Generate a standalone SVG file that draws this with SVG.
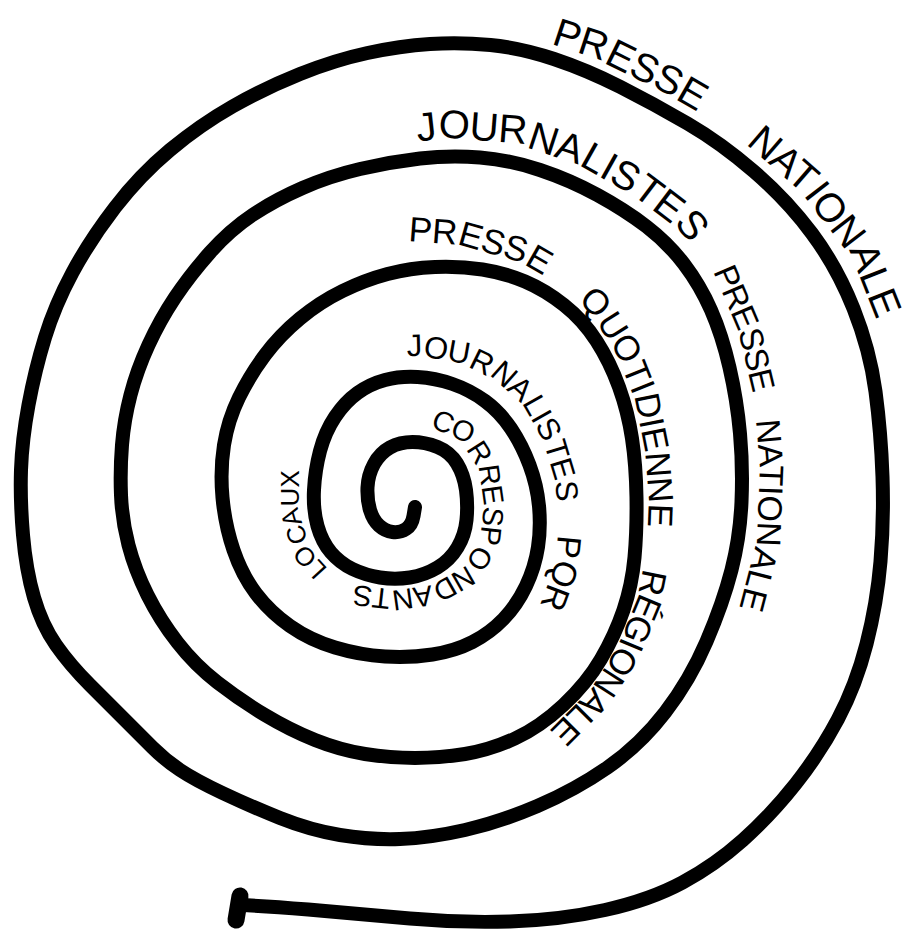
<svg xmlns="http://www.w3.org/2000/svg" width="914" height="940" viewBox="0 0 914 940">
<style>
.line{fill:none;stroke:#000;stroke-width:14;stroke-linecap:round;stroke-linejoin:round}
.lbl{font-family:"Liberation Sans",Arial,sans-serif;fill:#000}
</style>
<defs>
<path id="t1" d="M527,36 L594,58 L663,92 L732,132 L800,191 L853,260 L887,346 L899,432"/>
<path id="t2" d="M387,145 L450,138 L513,143 L577,164 L634,196 L680,231 L715,276 L738,330 L754,397 L760,467 L757,540 L739,609 L705,689"/>
<path id="t3" d="M395,240 L460,245 L520,262 L560,285 L592,315 L617,355 L635,400 L645,450 L649,500 L647,550 L637,600 L617,648 L590,690 L555,725 L515,750"/>
<path id="t4" d="M380,357 L420,356 L460,363 L495,380 L523,405 L543,440 L555,480 L559,525 L555,565 L540,605 L515,640"/>
<path id="t5" d="M428,426 L460,440 L479,470 L484,505 L480,540 L462,568 L432,585 L397,590 L362,586 L332,573 L310,549 L299,512 L299,468 L310,426"/>
</defs>
<rect width="914" height="940" fill="#fff"/>
<g id="connectors">
<path id="spiral" class="line" d="M415,507 L413.5,516 Q412,525 406,529 Q400,533 392.5,532 Q385,531 379,525.5 Q373,520 370,510 Q367,500 367.5,487.5 Q368,475 374,464 Q380,453 390,447.5 Q400,442 412.5,442 Q425,442 437.5,447 Q450,452 457,463.5 Q464,475 466,490 Q468,505 466.5,520 Q465,535 457.5,547.5 Q450,560 437.5,567.5 Q425,575 410,577.5 Q395,580 380,577.5 Q365,575 352.5,569 Q340,563 331,552.5 Q322,542 317.5,526 Q313,510 314,490 Q315,470 320,451 Q325,432 335,417 Q345,402 357.5,393 Q370,384 385,380 Q400,376 417.5,377 Q435,378 452.5,384 Q470,390 485,401 Q500,412 511,428.5 Q522,445 529.5,465 Q537,485 539,506 Q541,527 538,547 Q535,567 526,586 Q517,605 503.5,619 Q490,633 472.5,642 Q455,651 432.5,654.5 Q410,658 385,656.5 Q360,655 335,647.5 Q310,640 290,626 Q270,612 256,593.5 Q242,575 233.5,550 Q225,525 222.5,497.5 Q220,470 224,445 Q228,420 239,397.5 Q250,375 265,355 Q280,335 300,318.5 Q320,302 342.5,291 Q365,280 387.5,274 Q410,268 435,267 Q460,266 482.5,269.5 Q505,273 525,281.5 Q545,290 564,305 Q583,320 596.5,341 Q610,362 619,387 Q628,412 632,438.5 Q636,465 636.5,497.5 Q637,530 634.5,557.5 Q632,585 623.5,610 Q615,635 601,659 Q587,683 563.5,705 Q540,727 515,738.5 Q490,750 465,754 Q440,758 415,758 Q390,758 365,754 Q340,750 315,740 Q290,730 265,715 Q240,700 217.5,682.5 Q195,665 177.5,642.5 Q160,620 147.5,595 Q135,570 128.5,545 Q122,520 121,495 Q120,470 122,445 Q124,420 130.5,395 Q137,370 148.5,345 Q160,320 175,297.5 Q190,275 210,252.5 Q230,230 252.5,215 Q275,200 302.5,188 Q330,176 360,169 Q390,162 420,158.5 Q450,155 480,157.5 Q510,160 540,170 Q570,180 597.5,195 Q625,210 646.5,226.5 Q668,243 684,264 Q700,285 711,310 Q722,335 729.5,367.5 Q737,400 740,433.5 Q743,467 741.5,502 Q740,537 731.5,570 Q723,603 706.5,641.5 Q690,680 665,712.5 Q640,745 607.5,767.5 Q575,790 537.5,806 Q500,822 465,830 Q430,838 400,839 Q370,840 340,835 Q310,830 280,818 Q250,806 222.5,793 Q195,780 180,770 Q165,760 152.5,747.5 Q140,735 125,720 Q110,705 90,685 Q70,665 56,645 Q42,625 34,597.5 Q26,570 23,535 Q20,500 21,470 Q22,440 28.5,405 Q35,370 45,337.5 Q55,305 72.5,272.5 Q90,240 115,207.5 Q140,175 170,150 Q200,125 232.5,106.5 Q265,88 300,74 Q335,60 367.5,53 Q400,46 430,44 Q460,42 490.5,45 Q521,48 554,59 Q587,70 620.5,87 Q654,104 687.5,123.5 Q721,143 754,171.5 Q787,200 812,233.5 Q837,267 853.5,308.5 Q870,350 875.5,391.5 Q881,433 882.5,476.5 Q884,520 880.5,561.5 Q877,603 866.5,644 Q856,685 838,719 Q820,753 795.5,784 Q771,815 743,840 Q715,865 682.5,882.5 Q650,900 605,910 Q560,920 510,921.5 Q460,923 410,918.5 Q360,914 325,911 Q290,908 266.5,906.5 L243,905"/>
<path id="tail-knob" class="line" style="stroke-width:17" d="M240,896 L236,920"/>
</g>
<g id="label-presse-nationale">
<text class="lbl" font-size="40"><textPath href="#t1" startOffset="25">PRESSE</textPath></text>
<text class="lbl" font-size="40"><textPath href="#t1" startOffset="245">NATIONALE</textPath></text>
</g>
<g id="label-journalistes-presse-nationale">
<text class="lbl" font-size="40"><textPath href="#t2" startOffset="31">JOURNALISTES</textPath></text>
<text class="lbl" font-size="33" letter-spacing="-1"><textPath href="#t2" startOffset="369">PRESSE</textPath></text>
<text class="lbl" font-size="34"><textPath href="#t2" startOffset="525">NATIONALE</textPath></text>
</g>
<g id="label-pqr">
<text class="lbl" font-size="35"><textPath href="#t3" startOffset="13">PRESSE</textPath></text>
<text class="lbl" font-size="35"><textPath href="#t3" startOffset="198">QUOTIDIENNE</textPath></text>
<text class="lbl" font-size="35" letter-spacing="-1.5"><textPath href="#t3" startOffset="483">RÉGIONALE</textPath></text>
</g>
<g id="label-journalistes-pqr">
<text class="lbl" font-size="31"><textPath href="#t4" startOffset="27">JOURNALISTES</textPath></text>
<text class="lbl" font-size="34"><textPath href="#t4" startOffset="294">PQR</textPath></text>
</g>
<g id="label-correspondants-locaux">
<text class="lbl" font-size="29"><textPath href="#t5" startOffset="2">CORRESPONDANTS</textPath></text>
<text class="lbl" font-size="26"><textPath href="#t5" startOffset="318">LOCAUX</textPath></text>
</g>
</svg>
